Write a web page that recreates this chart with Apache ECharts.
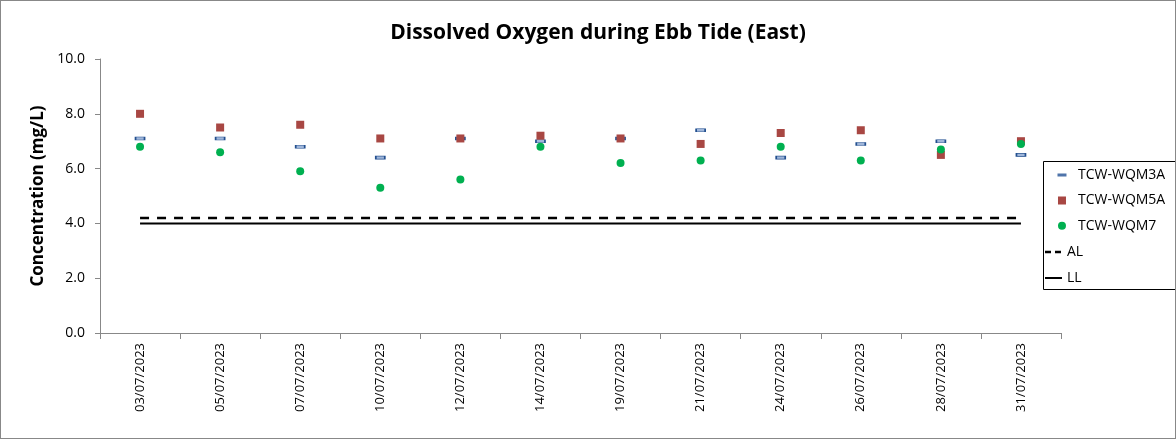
<!DOCTYPE html>
<html>
<head>
<meta charset="utf-8">
<script src="https://cdn.jsdelivr.net/npm/echarts@6/dist/echarts.min.js"></script>
<style>
  html, body { margin: 0; padding: 0; background: #fff; }
  #chart { width: 1176px; height: 439px; box-sizing: border-box; border: 1px solid #888; }
</style>
</head>
<body>
<div id="chart"></div>
<script>
const dates = ["03/07/2023", "05/07/2023", "07/07/2023", "10/07/2023", "12/07/2023", "14/07/2023",
  "19/07/2023", "21/07/2023", "24/07/2023", "26/07/2023", "28/07/2023", "31/07/2023"]
const wqm3a = [7.1, 7.1, 6.8, 6.4, 7.1, 7.0, 7.1, 7.4, 6.4, 6.9, 7.0, 6.5]
const wqm5a = [8.0, 7.5, 7.6, 7.1, 7.1, 7.2, 7.1, 6.9, 7.3, 7.4, 6.5, 7.0]
const wqm7 = [6.8, 6.6, 5.9, 5.3, 5.6, 6.8, 6.2, 6.3, 6.8, 6.3, 6.7, 6.9]
const actionLevel = 4.2
const limitLevel = 4.0

const font = "'Open Sans', 'Noto Sans', sans-serif"

// legend icons: tiny specks in the corners keep the box size so the mark stays small
const speckA = "M0,0h0.01v0.01h-0.01z"
const speckB = (w, h) => "M" + w + "," + h + "h0.01v0.01h-0.01z"
const iconDash = "path://" + speckA + "M6.5,4.5h9v3h-9z" + speckB(22, 12)
const iconSquare = "path://" + speckA + "M7,2h8v8h-8z" + speckB(22, 12)
const iconDot = "path://" + speckA + "M7,6a4,4 0 1,0 8,0a4,4 0 1,0 -8,0z" + speckB(22, 12)
const iconDashed = "path://" + speckA + "M0,4.75h6v2.5h-6zM10,4.75h6v2.5h-6z" + speckB(17, 12)
const iconSolid = "path://" + speckA + "M0,5h17v2h-17z" + speckB(17, 12)

const myChart = echarts.init(document.getElementById("chart"))

const option = {
  animation: false,
  title: {
    text: "Dissolved Oxygen during Ebb Tide (East)",
    left: 592,
    top: 17,
    textAlign: "center",
    textStyle: { fontFamily: font, fontSize: 21, fontWeight: "bold", color: "#000" }
  },
  grid: { left: 99, right: 114, top: 58, bottom: 105 },
  graphic: [
    {
      type: "rect",
      shape: { x: 1042.5, y: 160.5, width: 140, height: 128 },
      style: { fill: "none", stroke: "#000", lineWidth: 1 }
    }
  ],
  legend: [
    {
      orient: "vertical",
      left: 1050,
      top: 167,
      padding: 0,
      itemGap: 11.4,
      itemWidth: 22,
      itemHeight: 12,
      textStyle: { fontFamily: font, fontSize: 14, lineHeight: 12, color: "#000" },
      data: [
        { name: "TCW-WQM3A", icon: iconDash, itemStyle: { color: "#4f74aa", borderWidth: 0 } },
        { name: "TCW-WQM5A", icon: iconSquare },
        { name: "TCW-WQM7", icon: iconDot }
      ]
    },
    {
      orient: "vertical",
      left: 1044,
      top: 244,
      padding: 0,
      itemGap: 12,
      itemWidth: 17,
      itemHeight: 12,
      itemStyle: { borderWidth: 0 },
      textStyle: { fontFamily: font, fontSize: 14, lineHeight: 12, color: "#000" },
      data: [
        { name: "AL", icon: iconDashed },
        { name: "LL", icon: iconSolid }
      ]
    }
  ],
  xAxis: {
    type: "category",
    data: dates,
    boundaryGap: true,
    axisLine: { lineStyle: { color: "#888" } },
    axisTick: { show: true, length: 6, lineStyle: { color: "#888" } },
    axisLabel: { rotate: 90, color: "#000", fontFamily: font, fontSize: 13, margin: 10 }
  },
  yAxis: {
    type: "value",
    min: 0,
    max: 10,
    interval: 2,
    name: "Concentration (mg/L)",
    nameLocation: "middle",
    nameGap: 51,
    nameTextStyle: { fontFamily: font, fontSize: 17, fontWeight: "bold", color: "#000" },
    splitLine: { show: false },
    axisLine: { show: true, lineStyle: { color: "#888" } },
    axisTick: { show: true, length: 5, lineStyle: { color: "#888" } },
    axisLabel: {
      color: "#000", fontFamily: font, fontSize: 14, margin: 15,
      formatter: (v) => v.toFixed(1)
    }
  },
  series: [
    {
      name: "TCW-WQM3A",
      type: "scatter",
      data: wqm3a,
      symbol: "rect",
      symbolSize: [9, 3],
      itemStyle: { color: "#9fb6da", borderColor: "#24508f", borderWidth: 1, opacity: 1 }
    },
    {
      name: "TCW-WQM5A",
      type: "scatter",
      data: wqm5a,
      symbol: "rect",
      symbolSize: 8,
      itemStyle: { color: "#a84743", opacity: 1 }
    },
    {
      name: "TCW-WQM7",
      type: "scatter",
      data: wqm7,
      symbol: "circle",
      symbolSize: 8,
      itemStyle: { color: "#00b050", opacity: 1 }
    },
    {
      name: "AL",
      type: "line",
      data: dates.map(() => actionLevel),
      symbol: "none",
      itemStyle: { color: "#000" },
      lineStyle: { color: "#000", width: 2.5, type: [9, 8] }
    },
    {
      name: "LL",
      type: "line",
      data: dates.map(() => limitLevel),
      symbol: "none",
      itemStyle: { color: "#000" },
      lineStyle: { color: "#000", width: 2 }
    }
  ]
}

myChart.setOption(option)
</script>
</body>
</html>
